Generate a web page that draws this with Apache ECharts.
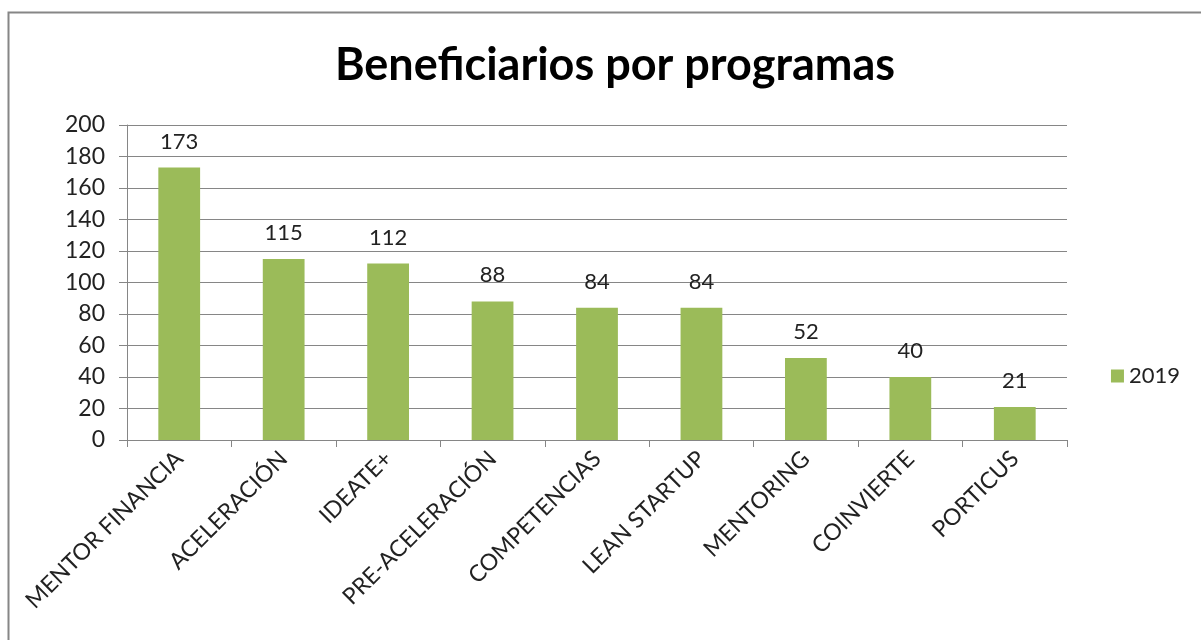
<!DOCTYPE html>
<html>
<head>
<meta charset="utf-8">
<script src="https://cdn.jsdelivr.net/npm/echarts@6/dist/echarts.min.js"></script>
<style>
  html, body { margin: 0; padding: 0; background: #fff; }
  #chart { width: 1201px; height: 640px; }
</style>
</head>
<body>
<div id="chart"></div>
<script>
// datos del gráfico
const programas = ['MENTOR FINANCIA', 'ACELERACIÓN', 'IDEATE+', 'PRE-ACELERACIÓN', 'COMPETENCIAS', 'LEAN STARTUP', 'MENTORING', 'COINVIERTE', 'PORTICUS'];
const valores2019 = [173, 115, 112, 88, 84, 84, 52, 40, 21];
const serieNombre = '2019';

const fuente = 'Lato, "Open Sans", sans-serif';
const gris = '#868686';

const chart = echarts.init(document.getElementById('chart'));
chart.setOption({
  animation: false,
  backgroundColor: '#fff',
  title: {
    text: 'Beneficiarios por programas',
    left: 330,
    top: 38,
    textStyle: { fontFamily: fuente, fontSize: 45, fontWeight: 'bold', color: '#000' }
  },
  legend: {
    data: [serieNombre],
    right: 16,
    top: 360,
    icon: 'rect',
    itemWidth: 13,
    itemHeight: 13,
    itemGap: 6,
    textStyle: { fontFamily: fuente, fontSize: 22, color: '#222' }
  },
  graphic: [{
    type: 'rect',
    shape: { x: 8.5, y: 12.5, width: 1200, height: 640 },
    style: { fill: 'none', stroke: gris, lineWidth: 2 },
    silent: true
  }],
  grid: { left: 127, right: 134, top: 125, bottom: 200 },
  xAxis: {
    type: 'category',
    data: programas,
    axisLine: { lineStyle: { color: gris } },
    axisTick: { show: true, length: 7, alignWithLabel: false, lineStyle: { color: gris } },
    axisLabel: {
      rotate: 45,
      interval: 0,
      margin: 15,
      fontFamily: fuente,
      fontSize: 23,
      color: '#222'
    }
  },
  yAxis: {
    type: 'value',
    min: 0,
    max: 200,
    interval: 20,
    axisLine: { show: true, lineStyle: { color: gris } },
    axisTick: { show: true, length: 8, lineStyle: { color: gris } },
    axisLabel: { fontFamily: fuente, fontSize: 23, color: '#222', margin: 22 },
    splitLine: { lineStyle: { color: gris, width: 1 } }
  },
  series: [{
    name: serieNombre,
    type: 'bar',
    data: valores2019,
    barWidth: '40%',
    itemStyle: { color: '#9BBB59' },
    label: {
      show: true,
      position: 'top',
      distance: 15,
      fontFamily: fuente,
      fontSize: 22,
      color: '#222'
    }
  }]
});
</script>
</body>
</html>
